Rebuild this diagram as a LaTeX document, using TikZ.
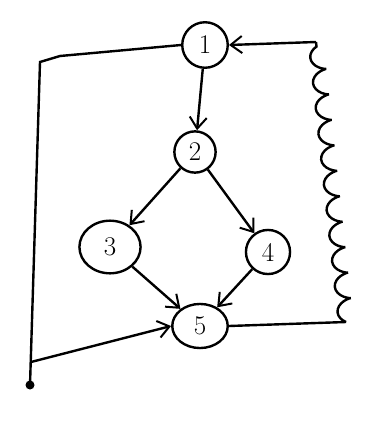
\documentclass[tikz,border=0pt]{standalone}
\usepackage{tikz}
\usetikzlibrary{arrows.meta,positioning,calc,decorations.pathmorphing,shapes.geometric}
\tikzset{
  state/.style={circle, draw=black, line width=2.4pt, minimum size=1.6cm,
    inner sep=0pt, font=\fontsize{27}{30}\selectfont},
  wstate/.style={state, ellipse, minimum width=1.95cm, minimum height=1.55cm},
  flow/.style={-{Straight Barb[length=4mm,width=6mm,line width=2pt]}, line width=2.4pt, draw=black},
  back/.style={line width=2.4pt, draw=black},
  wig/.style={decorate, decoration={coil, aspect=0.55, segment length=9mm, amplitude=2.6mm}},
}

\begin{document}
\begin{tikzpicture}[x=1pt, y=-1pt]
  \useasboundingbox (0,0) rectangle (365,428);
  \node[state] (n1) at (205,45) {1};
  \node[state, minimum size=1.45cm] (n2) at (195,152) {2};
  \node[wstate, minimum width=2.15cm, minimum height=1.85cm] (n3) at (110,247) {3};
  \node[state, minimum size=1.55cm] (n4) at (268,252) {4};
  \node[wstate] (n5) at (200,326) {5};
  \draw[flow] (n1) -- (n2);
  \draw[flow] (n2) -- (n3);
  \draw[flow] (n2) -- (n4);
  \draw[flow] (n3) -- (n5);
  \draw[flow] (n4) -- (n5);
  % left side path
  \coordinate (lt) at (40,62);
  \coordinate (lb) at (30,385);
  \coordinate (lj) at (31,362);
  \draw[back] (n1.west) -- (60,56) -- (lt) -- (lb);
  \draw[flow] (lj) -- (n5.west);
  \fill (lb) circle (4.5pt);
  % right side path, wavy
  \coordinate (rb) at (346,322);
  \coordinate (rt) at (316,42);
  \draw[back] (n5.east) -- (rb);
  \draw[back, wig] (rb) -- (rt);
  \draw[flow] (rt) -- (n1.east);
\end{tikzpicture}
\end{document}
